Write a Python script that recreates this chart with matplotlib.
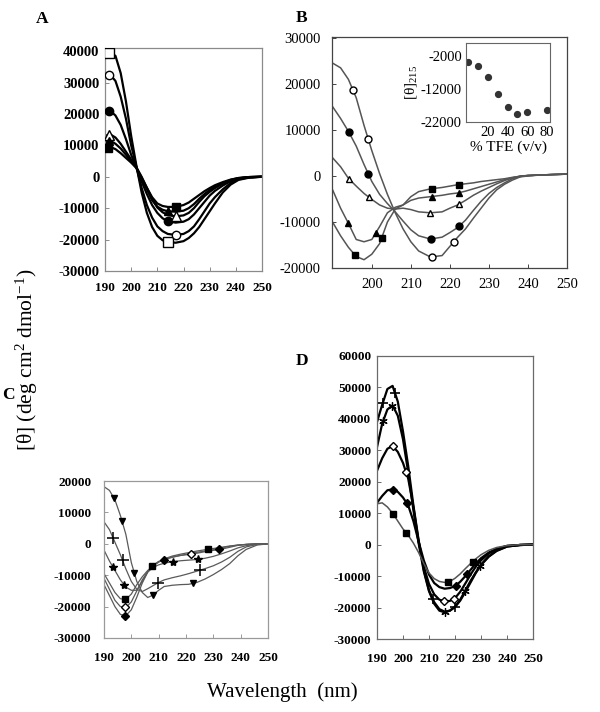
import numpy as np
import matplotlib
matplotlib.use("Agg")
import matplotlib.pyplot as plt

plt.rcParams['font.family'] = ['Liberation Serif', 'DejaVu Serif']
plt.rcParams['mathtext.fontset'] = 'custom'
plt.rcParams['mathtext.rm'] = 'Liberation Serif'
plt.rcParams['mathtext.it'] = 'Liberation Serif:italic'
plt.rcParams['mathtext.bf'] = 'Liberation Serif:bold'
plt.rcParams['axes.unicode_minus'] = False

# ---------------- Panel A data ----------------
wl_A = [190, 192, 194, 196, 198, 200, 202, 204, 206, 208, 210, 212, 214, 217, 220, 222,
        224, 226, 228, 230, 232, 235, 238, 241, 245, 250]
A_open_sq = [38500, 39500, 38500, 33000, 24000, 13000, 3500, -5000, -11500, -16000, -18800, -20200,
             -20800, -21000, -20500, -19500, -18000, -16000, -13500, -11000, -8500, -5000, -2500, -1000, -300, 0]
A_open_ci = [32000, 32500, 30500, 25500, 18500, 10000, 3200, -3500, -9000, -13000, -15800, -17300,
             -18200, -18500, -18200, -17300, -15800, -13500, -11000, -8500, -6500, -4000, -2000, -800, -200, 0]
A_fill_ci = [20500, 21000, 19500, 16500, 12000, 7000, 3000, -1500, -5500, -9000, -11500, -13200,
             -14200, -14600, -14300, -13500, -12000, -10000, -8000, -6000, -4500, -2800, -1400, -600, -100, 0]
A_open_tr = [13000, 13500, 12500, 10500, 8000, 5500, 3000, 0, -3500, -7000, -9800, -11300,
             -12200, -12600, -12300, -11500, -10000, -8000, -6200, -4800, -3600, -2200, -1100, -500, -100, 0]
A_fill_tr = [11000, 11500, 10500, 9000, 7000, 5000, 2800, -500, -4000, -7500, -9500, -10500,
             -11000, -11100, -10800, -10000, -8700, -7000, -5500, -4200, -3200, -2000, -1000, -400, -100, 0]
A_fill_sq = [9000, 9500, 8800, 7500, 6000, 4500, 2800, -300, -3500, -6500, -8500, -9300,
             -9600, -9600, -9000, -8200, -7000, -5800, -4600, -3600, -2700, -1700, -900, -400, -100, 0]
A_mark_open_sq = [191.5, 214]
A_mark_open_ci = [191.5, 217]
A_mark_fill_ci = [191.5, 214]
A_mark_open_tr = [191.5, 217]
A_mark_fill_tr = [191.5, 214]
A_mark_fill_sq = [191, 217.3]

# ---------------- Panel B data ----------------
wl_B = [190, 192, 194, 196, 198, 200, 202, 204, 206, 208, 210, 212, 215, 218, 220, 222,
        224, 226, 228, 230, 232, 234, 236, 238, 240, 243, 246, 250]
B_open_ci = [24500, 23500, 21000, 17000, 11000, 5500, 500, -4000, -8000, -11500, -14300, -16300,
             -17600, -17300, -15300, -13300, -11500, -9200, -7000, -4800, -3000, -1800, -900, -200, 0, 200, 300, 400]
B_fill_ci = [15000, 12500, 9700, 6500, 2500, -1200, -4000, -6000, -7800, -9800, -11700, -13000,
             -13700, -13300, -12300, -11200, -9600, -7500, -5500, -3800, -2500, -1500, -600, -100, 100, 200, 300, 400]
B_open_tr = [3900, 2000, -500, -2200, -3800, -5100, -6300, -7000, -7200, -7000, -7300, -7800,
             -8000, -7800, -7000, -6300, -5300, -4200, -3300, -2500, -1700, -1000, -400, 0, 100, 200, 300, 400]
B_fill_tr = [-3100, -7000, -10300, -13800, -14300, -13800, -11000, -8000, -6800, -6300, -5300, -4800,
             -4500, -4200, -3900, -3700, -3300, -2800, -2300, -1800, -1300, -800, -400, -100, 100, 200, 300, 400]
B_fill_sq = [-10100, -13000, -15500, -17500, -18200, -17000, -14700, -10000, -7200, -6300, -4500, -3400,
             -2800, -2500, -2200, -1900, -1700, -1500, -1200, -1000, -800, -600, -300, -100, 100, 200, 300, 400]
B_mark_open_ci = [195.2, 199.1, 215.3, 221.0]
B_mark_fill_ci = [194.1, 199.1, 215.1, 222.4]
B_mark_open_tr = [194.1, 199.3, 215.0, 222.3]
B_mark_fill_tr = [194.0, 201.0, 215.3, 222.4]
B_mark_fill_sq = [195.6, 202.5, 215.3, 222.4]

# inset
tfe = [0, 10, 20, 30, 40, 50, 60, 80]
theta215 = [-3700, -5000, -8300, -13600, -17300, -19600, -19100, -18500]

# ---------------- Panel C data ----------------
wl_C = [190, 192, 194, 196, 198, 200, 202, 204, 206, 208, 210, 212, 215, 218, 221, 224,
        227, 230, 233, 236, 239, 242, 246, 250]
C_tri_down = [18200, 17000, 14000, 9000, 3000, -6000, -12000, -15500, -17100, -16300, -14800, -13600,
              -13200, -13000, -12900, -12300, -11200, -9800, -8200, -6300, -3800, -1800, -400, 0]
C_plus = [7000, 4500, 500, -3500, -8000, -12000, -14500, -15200, -14300, -13300, -12300, -11500,
          -10800, -10200, -9500, -8700, -7900, -7000, -5800, -4300, -2400, -1000, -200, 0]
C_star = [-2000, -5500, -8500, -11500, -13800, -14800, -14800, -12000, -9000, -7500, -6700, -6200,
          -5700, -5400, -5200, -5000, -4600, -4000, -3200, -2300, -1300, -600, -100, 0]
C_fill_sq = [-9500, -12500, -15500, -17500, -17700, -16000, -13000, -10500, -8500, -7000, -5800, -4800,
             -3900, -3300, -2800, -2300, -1900, -1500, -1100, -700, -400, -200, 0, 0]
C_open_di = [-11000, -14500, -18000, -20000, -20300, -18500, -15000, -11500, -8800, -7000, -5800, -5000,
             -4200, -3700, -3400, -3000, -2500, -1900, -1300, -800, -400, -200, 0, 0]
C_fill_di = [-13000, -16500, -20000, -22500, -22900, -21000, -17000, -12500, -9000, -6800, -5600, -5000,
             -4300, -3700, -3200, -2700, -2300, -2100, -1700, -1100, -500, -200, 0, 0]
C_mark_tri_down = [193.7, 196.6, 201.1, 208.0, 222.4]
C_mark_plus = [193.4, 196.8, 209.9, 225.1]
C_mark_star = [193.2, 197.3, 215.4, 224.5]
C_mark_fill_sq = [197.7, 207.7, 228.2]
C_mark_open_di = [197.7, 221.7]
C_mark_fill_di = [197.7, 212.0, 232.2]

# ---------------- Panel D data ----------------
wl_D = [190, 192, 194, 196, 198, 200, 202, 204, 206, 208, 210, 212, 214, 216, 218, 220,
        222, 224, 226, 228, 230, 233, 236, 240, 245, 250]
D_plus = [39000, 44500, 49500, 50500, 45500, 36000, 25000, 12500, 1500, -8000, -14500, -18300,
          -20500, -21300, -21000, -19800, -17800, -15000, -12000, -9000, -6500, -3800, -2000, -600, -100, 0]
D_aster = [31000, 38500, 43000, 44300, 41000, 33500, 23000, 11000, 500, -8500, -14800, -18800,
           -21000, -21500, -21000, -19800, -17500, -14500, -11500, -8800, -6300, -3700, -1900, -600, -100, 0]
D_open_di = [23500, 27500, 30500, 31400, 29500, 26000, 21000, 12000, 1000, -7000, -12500, -15800,
             -17500, -18000, -17900, -17000, -15000, -12300, -9500, -7000, -5000, -2800, -1400, -400, -100, 0]
D_fill_di = [13300, 15500, 17300, 17600, 16800, 15000, 12500, 7500, 1000, -5000, -9500, -12200,
             -13500, -14000, -13800, -13200, -11800, -10000, -8000, -6000, -4300, -2500, -1300, -400, -100, 0]
D_fill_sq = [13000, 13300, 12000, 10000, 7500, 5000, 3000, 500, -2500, -6000, -9000, -10800,
             -11700, -12000, -11700, -10700, -9300, -7600, -6000, -4500, -3200, -1800, -900, -300, 0, 0]
D_mark_plus = [192.2, 196.9, 211.4, 220.0]
D_mark_aster = [192.4, 195.6, 216.2, 223.8, 229.6]
D_mark_open_di = [196.0, 201.2, 215.8, 219.6]
D_mark_fill_di = [196.3, 201.4, 220.3, 224.7]
D_mark_fill_sq = [196.3, 201.2, 217.4, 226.8]

xticks = [190, 200, 210, 220, 230, 240, 250]

W, H = 600, 712
fig = plt.figure(figsize=(W / 100, H / 100), dpi=100)


def rect(l, t, r, b):
    return [l / W, 1 - b / H, (r - l) / W, (b - t) / H]


def series(ax, wl, vals, marks, marker, color, lw, ms, mfc, mew=1.0):
    ax.plot(wl, vals, color=color, lw=lw, zorder=2)
    ax.plot(marks, np.interp(marks, wl, vals), ls='none', marker=marker, ms=ms,
            mfc=mfc, mec='black', mew=mew, zorder=3)


def style(ax, spine_color, ysize, xsize, weight, ypad, xpad):
    for s in ax.spines.values():
        s.set_color(spine_color)
        s.set_linewidth(0.9)
    ax.tick_params(direction='in', length=3, width=0.7, color=spine_color)
    ax.tick_params(axis='y', labelsize=ysize, pad=ypad)
    ax.tick_params(axis='x', labelsize=xsize, pad=xpad)
    for lab in ax.get_xticklabels() + ax.get_yticklabels():
        lab.set_fontweight(weight)


# ---- A ----
axA = fig.add_axes(rect(105, 48, 262, 271))
series(axA, wl_A, A_open_sq, A_mark_open_sq, 's', 'black', 1.6, 6.5, 'white')
series(axA, wl_A, A_open_ci, A_mark_open_ci, 'o', 'black', 1.6, 6.0, 'white')
series(axA, wl_A, A_fill_ci, A_mark_fill_ci, 'o', 'black', 1.6, 6.0, 'black')
series(axA, wl_A, A_open_tr, A_mark_open_tr, '^', 'black', 1.6, 6.5, 'white')
series(axA, wl_A, A_fill_tr, A_mark_fill_tr, '^', 'black', 1.6, 6.0, 'black')
series(axA, wl_A, A_fill_sq, A_mark_fill_sq, 's', 'black', 1.6, 6.0, 'black')
axA.set_xlim(190, 250)
axA.set_ylim(-30000, 41000)
axA.set_xticks(xticks)
axA.set_yticks(np.arange(-30000, 40001, 10000))
style(axA, '#8a8a8a', 10.5, 9.5, 'bold', 4, 8)

# ---- B ----
axB = fig.add_axes(rect(332, 37, 567, 268))
series(axB, wl_B, B_open_ci, B_mark_open_ci, 'o', '#555555', 1.1, 5.0, 'white')
series(axB, wl_B, B_fill_ci, B_mark_fill_ci, 'o', '#555555', 1.1, 5.0, 'black')
series(axB, wl_B, B_open_tr, B_mark_open_tr, '^', '#555555', 1.1, 5.0, 'white')
series(axB, wl_B, B_fill_tr, B_mark_fill_tr, '^', '#555555', 1.1, 5.0, 'black')
series(axB, wl_B, B_fill_sq, B_mark_fill_sq, 's', '#555555', 1.1, 5.0, 'black')
axB.set_xlim(189.8, 250)
axB.set_ylim(-20000, 30200)
axB.set_xticks(xticks[1:])
axB.set_yticks(np.arange(-20000, 30001, 10000))
style(axB, '#444444', 10.5, 10.5, 'normal', 8, 7)

# inset
axI = fig.add_axes(rect(466, 43, 550, 122))
axI.plot(tfe, theta215, ls='none', marker='o', ms=4.2, color='#333333')
axI.set_xlim(-2, 83)
axI.set_ylim(-22000, 2000)
axI.set_xticks([20, 40, 60, 80])
axI.set_yticks([-2000, -12000, -22000])
for s in axI.spines.values():
    s.set_color('#666666')
    s.set_linewidth(0.8)
axI.tick_params(length=0, labelsize=10.5, pad=3)
axI.set_xlabel('% TFE (v/v)', fontsize=11, labelpad=1)
axI.set_ylabel('[θ]$_{215}$', fontsize=11, labelpad=1)

# ---- C ----
axC = fig.add_axes(rect(104, 481, 268, 638))
gC = '#5a5a5a'
series(axC, wl_C, C_tri_down, C_mark_tri_down, 'v', gC, 0.9, 5.0, 'black')
series(axC, wl_C, C_plus, C_mark_plus, '+', gC, 0.9, 9.0, 'black', mew=1.1)
series(axC, wl_C, C_star, C_mark_star, '*', gC, 0.9, 6.0, 'black')
series(axC, wl_C, C_fill_sq, C_mark_fill_sq, 's', gC, 0.9, 5.0, 'black')
series(axC, wl_C, C_open_di, C_mark_open_di, 'D', gC, 0.9, 4.0, 'white')
series(axC, wl_C, C_fill_di, C_mark_fill_di, 'D', gC, 0.9, 4.0, 'black')
axC.set_xlim(190, 250)
axC.set_ylim(-30000, 20000)
axC.set_xticks(xticks)
axC.set_yticks(np.arange(-30000, 20001, 10000))
style(axC, '#9a9a9a', 9.5, 9.5, 'bold', 9, 10)

# ---- D ----
axD = fig.add_axes(rect(377, 356, 533, 639))
series(axD, wl_D, D_plus, D_mark_plus, '+', 'black', 1.6, 7.0, 'black', mew=1.2)
series(axD, wl_D, D_aster, D_mark_aster, (6, 2, 0), 'black', 1.6, 6.0, 'black', mew=0.9)
series(axD, wl_D, D_open_di, D_mark_open_di, 'D', 'black', 1.6, 3.8, 'white')
series(axD, wl_D, D_fill_di, D_mark_fill_di, 'D', 'black', 1.6, 3.8, 'black')
series(axD, wl_D, D_fill_sq, D_mark_fill_sq, 's', '#555555', 1.1, 5.0, 'black')
axD.set_xlim(190, 250)
axD.set_ylim(-30000, 60000)
axD.set_xticks(xticks)
axD.set_yticks(np.arange(-30000, 60001, 10000))
style(axD, '#6a6a6a', 9.5, 9.5, 'bold', 4, 10)

# panel letters
for lab, x, y in [('A', 42, 19), ('B', 302, 18), ('C', 8, 395), ('D', 302, 361)]:
    fig.text(x / W, 1 - y / H, lab, fontsize=12.5, fontweight='bold', ha='center', va='center')

# shared axis labels
fig.text(27 / W, 1 - 360 / H, '[θ] (deg cm$^2$ dmol$^{-1}$)', rotation=90,
         fontsize=15.5, ha='center', va='center')
fig.text(282 / W, 1 - 692 / H, 'Wavelength  (nm)', fontsize=15, ha='center', va='center')

fig.savefig('out.png', dpi=100)
